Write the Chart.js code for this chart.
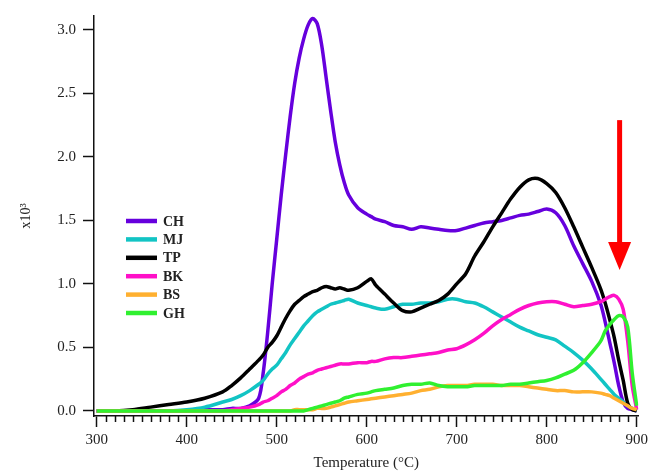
<!DOCTYPE html>
<html>
<head>
<meta charset="utf-8">
<script src="https://cdn.jsdelivr.net/npm/chart.js@4"></script>
<style>
  html, body { margin: 0; padding: 0; background: #fff; }
  #wrap { width: 652px; height: 476px; }
</style>
</head>
<body>
<div id="wrap"><canvas id="chart" width="652" height="476"></canvas></div>
<script>
const temps = [300,320,340,360,380,400,420,440,450,460,470,480,485,490,495,500,505,510,515,520,525,530,535,540,545,550,555,560,565,570,575,580,590,600,605,610,620,630,640,650,660,670,680,690,700,710,720,730,740,750,760,770,780,790,800,810,820,830,840,850,860,865,870,875,880,885,890,895,900];

const ch = [0,0,0,0,0,0,0.01,0.01,0.02,0.02,0.04,0.1,0.3,0.62,1.0,1.35,1.7,2.02,2.32,2.58,2.78,2.93,3.04,3.09,3.05,2.88,2.62,2.36,2.12,1.94,1.8,1.7,1.6,1.55,1.53,1.51,1.49,1.46,1.45,1.43,1.45,1.44,1.43,1.42,1.42,1.44,1.46,1.48,1.49,1.5,1.52,1.54,1.55,1.57,1.59,1.56,1.46,1.3,1.16,1.02,0.84,0.7,0.54,0.38,0.2,0.07,0.02,0.01,0];
const mj = [0,0,0,0,0,0.01,0.03,0.07,0.09,0.12,0.16,0.21,0.24,0.29,0.33,0.36,0.41,0.46,0.52,0.57,0.62,0.67,0.71,0.75,0.78,0.8,0.82,0.84,0.85,0.86,0.87,0.88,0.85,0.83,0.82,0.81,0.8,0.82,0.84,0.84,0.85,0.85,0.86,0.88,0.88,0.86,0.85,0.82,0.78,0.74,0.7,0.66,0.63,0.6,0.58,0.56,0.51,0.46,0.4,0.33,0.25,0.21,0.17,0.13,0.1,0.07,0.04,0.02,0];
const tp = [0,0,0.01,0.03,0.05,0.07,0.1,0.15,0.2,0.26,0.33,0.4,0.44,0.5,0.54,0.59,0.66,0.73,0.79,0.84,0.87,0.9,0.92,0.94,0.95,0.97,0.98,0.97,0.96,0.97,0.96,0.95,0.97,1.02,1.04,0.99,0.92,0.85,0.79,0.78,0.81,0.84,0.87,0.92,1.0,1.08,1.22,1.33,1.45,1.56,1.67,1.76,1.82,1.83,1.79,1.72,1.6,1.45,1.29,1.13,0.96,0.85,0.72,0.58,0.4,0.24,0.06,0.01,0];
const bk = [0,0,0,0,0,0,0,0,0.01,0.02,0.03,0.05,0.07,0.08,0.1,0.12,0.15,0.17,0.2,0.22,0.25,0.27,0.29,0.3,0.32,0.33,0.34,0.35,0.36,0.37,0.37,0.37,0.38,0.38,0.39,0.39,0.41,0.42,0.42,0.43,0.44,0.45,0.46,0.48,0.49,0.52,0.56,0.61,0.67,0.72,0.76,0.8,0.83,0.85,0.86,0.86,0.84,0.82,0.83,0.84,0.86,0.88,0.9,0.91,0.88,0.8,0.55,0.2,0.01];
const bs = [0,0,0,0,0,0,0,0,0,0,0,0,0,0,0,0,0,0,0,0.01,0.01,0.01,0.01,0.01,0.02,0.02,0.02,0.03,0.04,0.05,0.06,0.07,0.08,0.09,0.095,0.1,0.11,0.12,0.13,0.14,0.16,0.17,0.19,0.2,0.2,0.2,0.21,0.21,0.21,0.2,0.2,0.2,0.19,0.18,0.17,0.16,0.16,0.15,0.15,0.15,0.14,0.13,0.12,0.1,0.08,0.06,0.04,0.02,0.01];
const gh = [0,0,0,0,0,0,0,0,0,0,0,0,0,0,0,0,0,0,0,0,0,0,0.01,0.02,0.03,0.04,0.05,0.06,0.07,0.08,0.1,0.11,0.13,0.14,0.15,0.16,0.17,0.18,0.2,0.21,0.21,0.22,0.2,0.19,0.19,0.19,0.2,0.2,0.2,0.2,0.21,0.21,0.22,0.23,0.24,0.26,0.29,0.32,0.38,0.46,0.55,0.63,0.68,0.72,0.75,0.74,0.66,0.3,0.04];

const names = ["CH", "MJ", "TP", "BK", "BS", "GH"];
const colors = ["#6600dd", "#12c4c4", "#000000", "#ff10c8", "#ffb030", "#30f030"];
const series = [ch, mj, tp, bk, bs, gh];

const xTicks = [300, 400, 500, 600, 700, 800, 900];
const yTicks = [0, 0.5, 1.0, 1.5, 2.0, 2.5, 3.0];
const arrow = { x: 881, top: 2.29, headBase: 1.33, tip: 1.11 };

const serif = "'Liberation Serif', 'Times New Roman', serif";

// minor ticks on x, every 10 degrees
const minorTicks = {
  id: "minorTicks",
  afterDraw(chart) {
    const ctx = chart.ctx, x = chart.scales.x, bottom = chart.chartArea.bottom;
    ctx.save();
    ctx.strokeStyle = "#111";
    ctx.lineWidth = 1.5;
    for (let v = 310; v < 900; v += 10) {
      if (v % 100 === 0) continue;
      const px = Math.round(x.getPixelForValue(v)) + 0.5;
      ctx.beginPath();
      ctx.moveTo(px, bottom);
      ctx.lineTo(px, bottom + 6);
      ctx.stroke();
    }
    ctx.restore();
  }
};

// legend box inside plot
const legendBox = {
  id: "legendBox",
  afterDraw(chart) {
    const ctx = chart.ctx;
    ctx.save();
    ctx.font = "bold 14px " + serif;
    ctx.textBaseline = "middle";
    chart.data.datasets.forEach((ds, i) => {
      const y = 221 + i * 18.4;
      ctx.strokeStyle = ds.borderColor;
      ctx.lineWidth = 4.5;
      ctx.beginPath();
      ctx.moveTo(126, y);
      ctx.lineTo(157, y);
      ctx.stroke();
      ctx.fillStyle = "#222";
      ctx.fillText(ds.label, 163, y + 1);
    });
    ctx.restore();
  }
};

// red arrow
const redArrow = {
  id: "redArrow",
  afterDraw(chart) {
    const ctx = chart.ctx, xs = chart.scales.x, ys = chart.scales.y;
    const px = xs.getPixelForValue(arrow.x);
    const top = ys.getPixelForValue(arrow.top);
    const base = ys.getPixelForValue(arrow.headBase);
    const tip = ys.getPixelForValue(arrow.tip);
    ctx.save();
    ctx.fillStyle = "#ff0000";
    ctx.fillRect(px - 2.5, top, 5, base - top + 1);
    ctx.beginPath();
    ctx.moveTo(px - 11.5, base);
    ctx.lineTo(px + 11.5, base);
    ctx.lineTo(px, tip);
    ctx.closePath();
    ctx.fill();
    ctx.restore();
  }
};

new Chart(document.getElementById("chart"), {
  type: "line",
  data: {
    datasets: series.map((s, i) => ({
      label: names[i],
      data: temps.map((t, j) => ({ x: t, y: s[j] })),
      borderColor: colors[i],
      borderWidth: 3.5,
      pointRadius: 0,
      tension: 0.3,
      fill: false,
      order: 6 - i
    }))
  },
  options: {
    responsive: false,
    animation: false,
    events: [],
    layout: { padding: { top: 10, right: 11, left: 0, bottom: 0 } },
    plugins: { legend: { display: false }, tooltip: { enabled: false } },
    scales: {
      x: {
        type: "linear",
        min: 297,
        max: 902,
        afterBuildTicks: s => { s.ticks = xTicks.map(v => ({ value: v })); },
        afterFit: s => { s.height = 60; },
        ticks: { color: "#222", font: { family: serif, size: 15 }, padding: 4, maxRotation: 0 },
        grid: { drawOnChartArea: false, tickLength: 11, tickColor: "#111", tickWidth: 1.5 },
        border: { color: "#111", width: 1.5 },
        title: { display: true, text: "Temperature (°C)", color: "#222", font: { family: serif, size: 15 }, padding: { top: 0, bottom: 4 } }
      },
      y: {
        min: -0.04,
        max: 3.11,
        afterBuildTicks: s => { s.ticks = yTicks.map(v => ({ value: v })); },
        afterFit: s => { s.width = 94; },
        ticks: { color: "#222", font: { family: serif, size: 15 }, padding: 7, callback: v => v.toFixed(1) },
        grid: { drawOnChartArea: false, tickLength: 11, tickColor: "#111", tickWidth: 1.5 },
        border: { color: "#111", width: 1.5 },
        title: { display: true, text: "x10³", color: "#222", font: { family: serif, size: 14 }, padding: { top: 18, bottom: 0 } }
      }
    }
  },
  plugins: [minorTicks, legendBox, redArrow]
});
</script>
</body>
</html>
